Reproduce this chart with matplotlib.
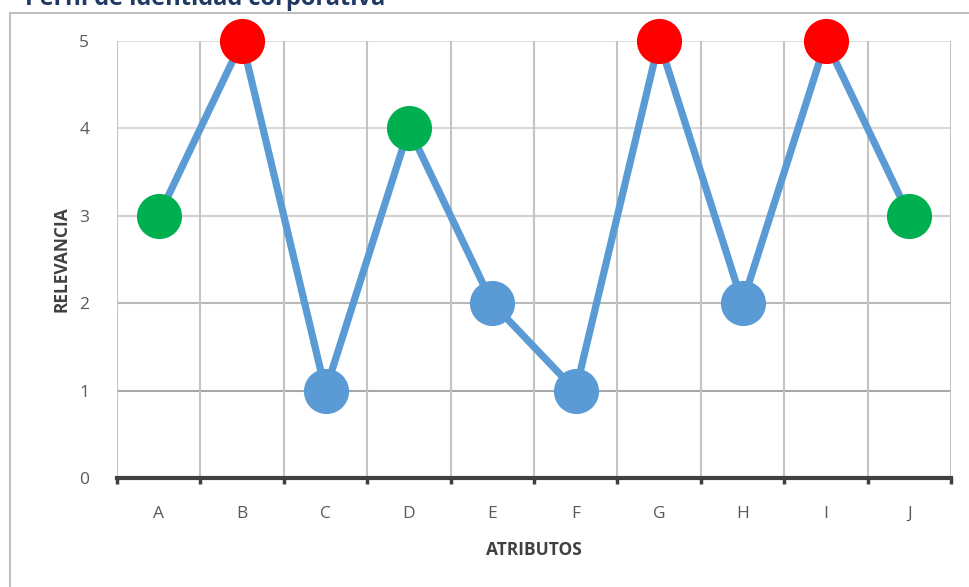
import matplotlib.pyplot as plt
from matplotlib.patches import Rectangle

# data
atributos = ["A", "B", "C", "D", "E", "F", "G", "H", "I", "J"]
relevancia = [3, 5, 1, 4, 2, 1, 5, 2, 5, 3]

def point_color(v):
    if v >= 5:
        return "#FF0000"
    if v >= 3:
        return "#00B050"
    return "#5B9BD5"

plt.rcParams['font.family'] = ['Open Sans', 'DejaVu Sans']

fig = plt.figure(figsize=(9.69, 5.87), dpi=100)
ax = fig.add_axes([117/969, 1 - 478/587, (951 - 117)/969, (478 - 41)/587])

x = list(range(len(atributos)))

# gridlines (lower ones look darker in the reference)
grid_cols = {1: "#a6a6a6", 2: "#b8b8b8", 3: "#d0d0d0", 4: "#d9d9d9", 5: "#e0e0e0"}
for lvl, c in grid_cols.items():
    ax.axhline(lvl, color=c, lw=1.5, zorder=1)
ax.set_xticks([i - 0.5 for i in range(len(atributos) + 1)], minor=True)
ax.grid(True, which="minor", axis="x", color="#c4c4c4", lw=1.5, zorder=1)

ax.plot(x, relevancia, color="#5B9BD5", lw=5.2, zorder=3, solid_capstyle="round")
for xi, v in zip(x, relevancia):
    ax.plot(xi, v, "o", ms=32.5, color=point_color(v), mec="none", zorder=4, clip_on=False)

ax.set_xlim(-0.5, len(atributos) - 0.5)
ax.set_ylim(0, 5)
ax.set_xticks(x)
ax.set_xticklabels(atributos)
ax.set_yticks(range(6))
ax.tick_params(axis="x", which="major", length=0, pad=20, labelsize=12.5, labelcolor="#595959")
ax.tick_params(axis="x", which="minor", length=4, width=2.5, color="#404040", direction="out")
ax.tick_params(axis="y", length=0, pad=20, labelsize=12.5, labelcolor="#595959")

for s in ["left", "right", "top"]:
    ax.spines[s].set_visible(False)
ax.spines["bottom"].set_color("#404040")
ax.spines["bottom"].set_linewidth(3)
ax.spines["bottom"].set_zorder(5)

ax.set_xlabel("ATRIBUTOS", fontsize=12.5, fontweight="bold", color="#404040", labelpad=14)
ax.set_ylabel("RELEVANCIA", fontsize=12.5, fontweight="bold", color="#404040", labelpad=6)

# chart frame and cut-off title
fig.patches.append(Rectangle((10/969, -0.1), 1.1, 1 - 13/587 + 0.1, transform=fig.transFigure,
                             fill=False, ec="#bfbfbf", lw=1.5))
fig.text(25/969, 1 - 5/587, "Perfil de identidad corporativa", fontsize=17, fontweight="bold",
         color="#1F3864", va="baseline", ha="left")

fig.savefig("out.png", dpi=100)
